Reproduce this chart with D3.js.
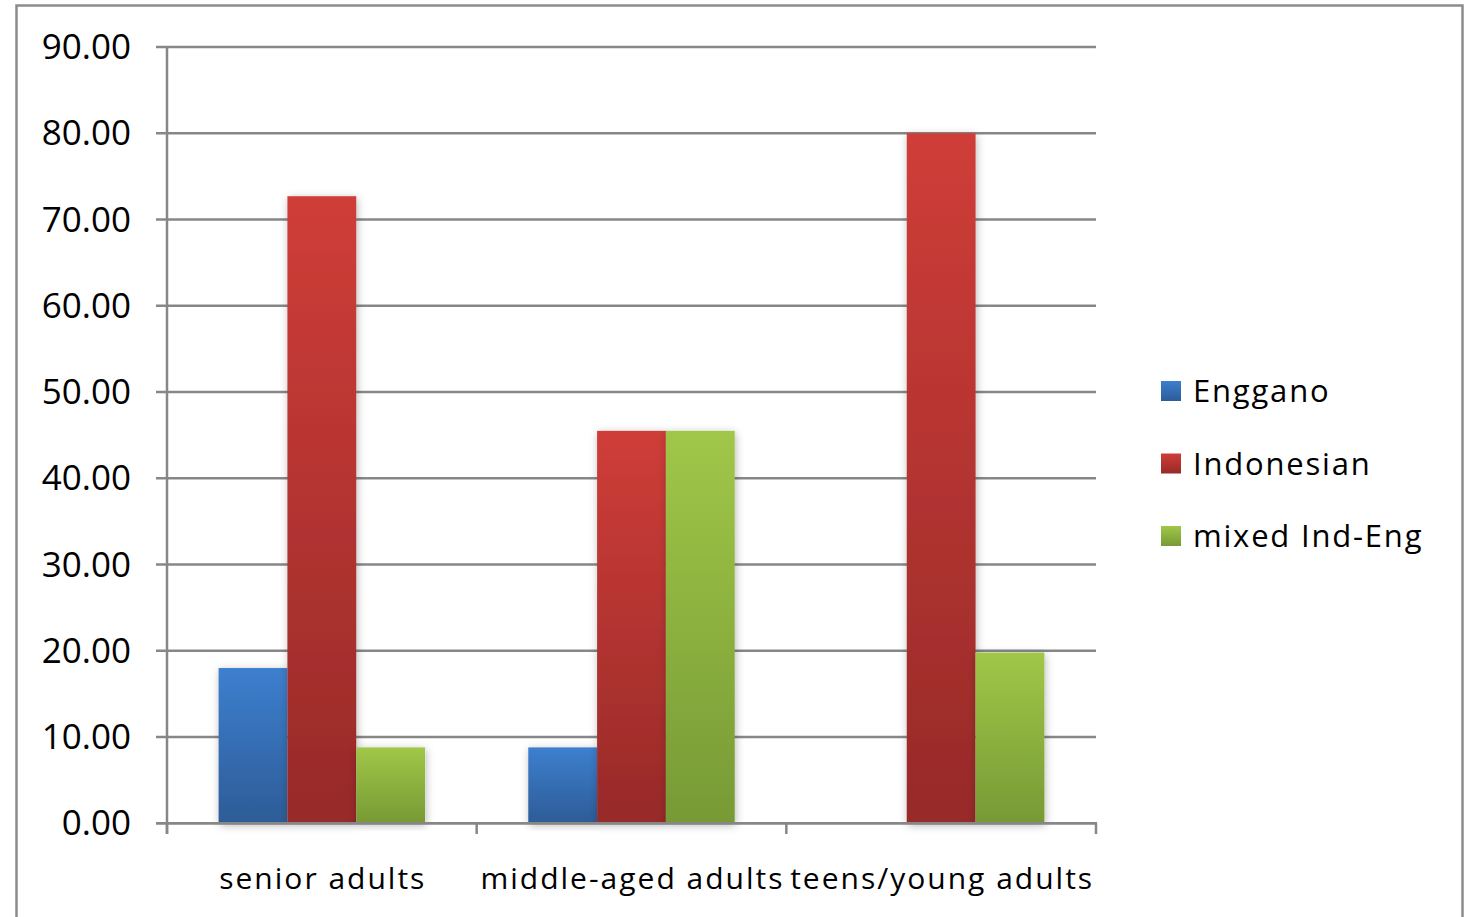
<!DOCTYPE html>
<html><head><meta charset="utf-8">
<script src="https://cdn.jsdelivr.net/npm/d3@7"></script>
<style>html,body{margin:0;padding:0;background:#fff;overflow:hidden}</style>
</head><body>
<script>
const categories = ["senior adults", "middle-aged adults", "teens/young adults"];
const seriesNames = ["Enggano", "Indonesian", "mixed Ind-Eng"];
const enggano = [18.0, 8.8, 0];
const indonesian = [72.7, 45.5, 80.0];
const mixedIndEng = [8.8, 45.5, 19.8];
const yTicks = [0, 10, 20, 30, 40, 50, 60, 70, 80, 90];
const seriesValues = [enggano, indonesian, mixedIndEng];
const colors = [["#3d7fcf", "#2d5c97"], ["#cf3d38", "#972a29"], ["#a0c748", "#779a35"]];

const W = 1468, H = 917;
const svg = d3.select("body").append("svg").attr("width", W).attr("height", H);
const defs = svg.append("defs");
colors.forEach((c, i) => {
  const g = defs.append("linearGradient").attr("id", "g" + i)
    .attr("x1", 0).attr("y1", 0).attr("x2", 0).attr("y2", 1);
  g.append("stop").attr("offset", "0%").attr("stop-color", c[0]);
  g.append("stop").attr("offset", "100%").attr("stop-color", c[1]);
});
const f = defs.append("filter").attr("id", "sh").attr("x", "-20%").attr("y", "-10%").attr("width", "140%").attr("height", "120%");
f.append("feDropShadow").attr("dx", 1).attr("dy", 2).attr("stdDeviation", 4)
  .attr("flood-color", "#000").attr("flood-opacity", 0.28);

// outer border
svg.append("rect").attr("x", 16.5).attr("y", 5.5).attr("width", 1446).attr("height", 930)
  .attr("fill", "none").attr("stroke", "#8c8c8c").attr("stroke-width", 2.5);

const left = 167, right = 1096;
const y = d3.scaleLinear().domain([0, 90]).range([823.3, 47]);
const x0 = d3.scaleBand().domain(categories).range([left, right]).paddingInner(0).paddingOuter(0);
const x1 = d3.scaleBand().domain(seriesNames).range([0, x0.bandwidth()]).paddingInner(0).paddingOuter(0.75);

const font = "'Open Sans', sans-serif";
const grid = "#878787";

// gridlines
svg.append("g").selectAll("line").data(yTicks).join("line")
  .attr("x1", 156).attr("x2", right).attr("y1", d => y(d)).attr("y2", d => y(d))
  .attr("stroke", grid).attr("stroke-width", 2.5);

// y labels
svg.append("g").selectAll("text").data(yTicks).join("text")
  .attr("x", 131).attr("y", d => y(d) + 12)
  .attr("text-anchor", "end").attr("font-family", font).attr("font-size", 35)
  .attr("fill", "#000").text(d => d.toFixed(2));

// bars
const groups = svg.append("g").selectAll("g").data(categories).join("g")
  .attr("transform", c => `translate(${x0(c)},0)`);
groups.selectAll("rect").data((c, ci) => seriesNames.map((s, si) => ({ s, si, v: seriesValues[si][ci] })))
  .join("rect")
  .filter(d => d.v > 0)
  .attr("x", d => x1(d.s)).attr("width", x1.bandwidth())
  .attr("y", d => y(d.v)).attr("height", d => y(0) - y(d.v))
  .attr("fill", d => `url(#g${d.si})`).attr("filter", "url(#sh)");

// axes lines
svg.append("line").attr("x1", left).attr("x2", left).attr("y1", y(90)).attr("y2", 834)
  .attr("stroke", grid).attr("stroke-width", 2.5);
svg.append("line").attr("x1", 156).attr("x2", right + 1).attr("y1", y(0)).attr("y2", y(0))
  .attr("stroke", grid).attr("stroke-width", 2.5);
const bounds = categories.map(c => x0(c)).concat([right]);
svg.append("g").selectAll("line").data(bounds).join("line")
  .attr("x1", d => d).attr("x2", d => d).attr("y1", y(0)).attr("y2", 834)
  .attr("stroke", grid).attr("stroke-width", 2.5);

// category labels
svg.append("g").selectAll("text").data(categories).join("text")
  .attr("x", c => x0(c) + x0.bandwidth() / 2 + 1).attr("y", 889)
  .attr("text-anchor", "middle").attr("font-family", font).attr("font-size", 30)
  .attr("letter-spacing", 2.0).attr("fill", "#000").text(c => c);

// legend
const lg = svg.append("g").selectAll("g").data(seriesNames).join("g")
  .attr("transform", (d, i) => `translate(1161,${381 + i * 72.5})`);
lg.append("rect").attr("width", 20).attr("height", 20).attr("fill", (d, i) => `url(#g${i})`);
lg.append("text").attr("x", 32).attr("y", 21).attr("font-family", font).attr("font-size", 31)
  .attr("letter-spacing", 1.8).attr("fill", "#000").text(d => d);
</script>
</body></html>
